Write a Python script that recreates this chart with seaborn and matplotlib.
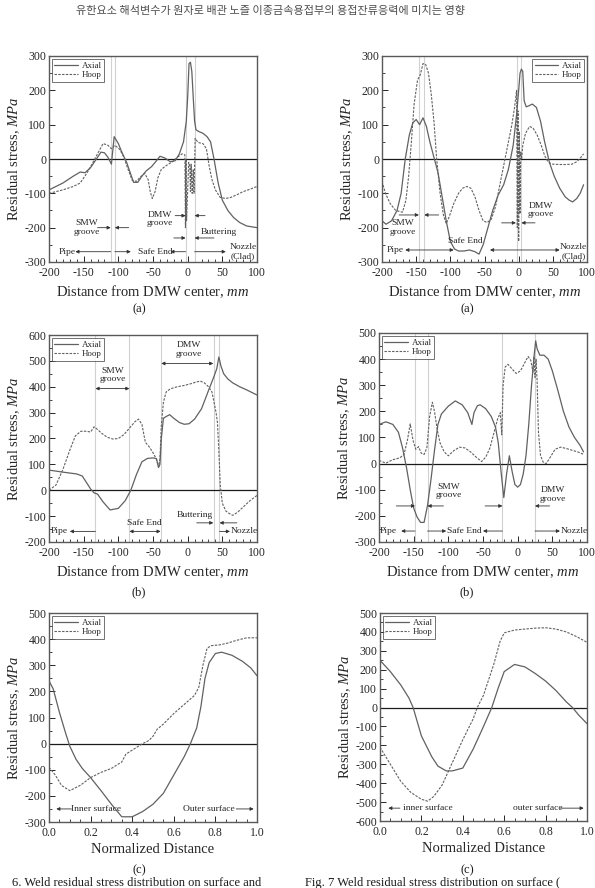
import matplotlib
matplotlib.use("Agg")
import matplotlib.pyplot as plt
import seaborn as sns
import numpy as np
import pandas as pd
from matplotlib.ticker import MultipleLocator

# ---------------- data ----------------
header = "유한요소 해석변수가 원자로 배관 노즐 이종금속용접부의 용접잔류응력에 미치는 영향"
series_names = ["Axial", "Hoop"]

# Panel 1 (top-left)
p1_ax_x = [-200, -180, -165, -155, -148, -140, -130, -125, -120, -115, -110, -106, -100, -95, -88, -82, -78, -72, -66, -60, -52, -45, -40, -33, -25, -18, -12, -6, -2, 0, 2, 4, 6, 8, 10, 12, 16, 22, 28, 33, 38, 44, 50, 58, 66, 75, 85, 100]
p1_ax_y = [-90, -70, -50, -38, -40, -25, 5, 20, 18, 5, -15, 65, 45, 20, -10, -45, -68, -68, -50, -35, -22, -5, 8, 3, -8, -5, 15, 50, 110, 180, 278, 282, 255, 180, 110, 85, 80, 75, 65, 50, 0, -70, -120, -150, -170, -185, -195, -200]
p1_hp_x = [-200, -180, -165, -155, -145, -138, -130, -122, -115, -110, -105, -98, -92, -86, -80, -74, -68, -62, -57, -54, -51, -47, -43, -38, -30, -22, -15, -8, -4, -3.2, -2.4, -1.6, 1.5, 3.0, 4.0, 5.0, 6.5, 8.0, 9.2, 10.8, 15, 22, 27, 31, 35, 40, 47, 55, 62, 70, 80, 90, 100]
p1_hp_y = [-100, -90, -80, -70, -40, -15, 15, 45, 40, 30, 40, 28, 5, -30, -62, -65, -52, -42, -60, -95, -115, -95, -55, -30, -18, -8, 5, 15, 12, -200, 0, -180, -10, -20, -95, -15, -100, -30, -100, 60, 48, 45, 30, -20, -60, -90, -112, -115, -112, -105, -95, -88, -80]

# Panel 2 (top-right)
p2_ax_x = [-200, -194, -186, -178, -172, -166, -160, -155, -150, -145, -140, -135, -130, -124, -118, -112, -106, -100, -94, -88, -80, -72, -64, -58, -52, -45, -38, -30, -22, -15, -8, -3, 0, 2, 4, 6, 8, 11, 15, 20, 26, 32, 38, 45, 52, 60, 68, 74, 79, 85, 90, 95]
p2_ax_y = [-180, -190, -180, -150, -100, 0, 70, 105, 115, 100, 120, 95, 50, 5, -40, -110, -180, -240, -262, -268, -268, -265, -270, -277, -250, -200, -150, -105, -75, -30, 40, 130, 200, 250, 262, 255, 170, 152, 155, 160, 150, 110, 50, -10, -50, -85, -110, -120, -125, -115, -100, -75]
p2_hp_x = [-200, -195, -188, -180, -170, -165, -161, -157, -153, -148, -144, -140, -136, -132, -128, -124, -120, -115, -110, -106, -102, -95, -88, -82, -76, -70, -64, -58, -52, -46, -40, -34, -28, -22, -16, -10, -6, -3, -2.0, -1.0, 0, 1.0, 2.0, 3.0, 4.4, 6, 10, 16, 21, 27, 33, 38, 42, 46, 50, 60, 70, 78, 85, 90, 95]
p2_hp_y = [-65, -100, -130, -150, -155, -120, -50, 50, 160, 230, 245, 278, 275, 250, 190, 110, 0, -100, -165, -188, -170, -130, -100, -85, -80, -85, -110, -150, -180, -185, -175, -140, -80, -20, 40, 100, 150, 200, -200, 140, -240, 80, -160, 20, 0, 40, 75, 95, 90, 70, 40, 10, -5, -12, -15, -16, -16, -15, -8, 2, 15]

# Panel 3 (middle-left)
p3_ax_x = [-200, -180, -160, -152, -146, -140, -135, -130, -122, -112, -100, -90, -82, -74, -66, -58, -50, -45, -42, -40, -38, -35, -31, -26, -20, -12, -5, 2, 10, 20, 30, 38, 42, 45, 48, 52, 58, 65, 75, 85, 100]
p3_ax_y = [78, 70, 63, 55, 30, 5, -10, -15, -45, -76, -70, -40, 0, 60, 110, 123, 125, 122, 88, 100, 200, 278, 285, 292, 278, 262, 255, 257, 275, 315, 385, 440, 470, 515, 480, 450, 430, 415, 400, 388, 368]
p3_hp_x = [-200, -190, -180, -170, -162, -154, -146, -140, -135, -130, -124, -116, -108, -100, -92, -84, -76, -71, -66, -61, -56, -50, -45, -42, -40, -38, -35, -31, -25, -15, -5, 5, 12, 18, 24, 30, 35, 38, 41, 43, 45, 47, 50, 55, 60, 65, 72, 80, 90, 100]
p3_hp_y = [0, 20, 80, 155, 210, 228, 228, 225, 245, 235, 220, 205, 198, 200, 215, 240, 265, 275, 255, 185, 170, 145, 120, 90, 120, 250, 340, 380, 392, 400, 405, 412, 418, 422, 415, 400, 380, 340, 300, 260, 150, 20, -50, -80, -90, -97, -85, -65, -40, -20]

# Panel 4 (middle-right)
p4_ax_x = [-200, -190, -180, -172, -166, -160, -155, -150, -145, -140, -135, -130, -125, -120, -115, -110, -100, -90, -80, -72, -68, -66, -63, -58, -54, -46, -38, -32, -28, -24, -20, -16, -12, -8, -4, 0, 4, 8, 12, 16, 20, 24, 26, 28, 32, 38, 44, 50, 58, 66, 74, 82, 90, 95]
p4_ax_y = [150, 160, 150, 120, 60, -20, -100, -170, -205, -225, -225, -160, -60, 50, 150, 190, 220, 240, 225, 195, 165, 150, 195, 222, 225, 210, 180, 140, 80, -30, -130, -40, 30, -30, -80, -90, -80, -40, 30, 150, 300, 420, 470, 440, 415, 415, 400, 355, 280, 200, 140, 100, 70, 45]
p4_hp_x = [-200, -190, -180, -170, -164, -159, -155, -151, -147, -143, -139, -135, -131, -127, -123, -120, -116, -112, -106, -100, -92, -84, -76, -68, -60, -52, -46, -40, -34, -29, -25, -23, -21, -18, -14, -8, -2, 4, 10, 15, 19, 22, 23.5, 25, 26.5, 28, 30, 33, 37, 41, 46, 54, 62, 70, 80, 90, 95]
p4_hp_y = [12, 2, 15, 22, 35, 90, 152, 90, 55, 65, 40, 35, 60, 180, 235, 200, 130, 80, 45, 30, 50, 63, 60, 45, 25, 8, 25, 60, 120, 170, 195, 110, 300, 370, 380, 362, 345, 355, 385, 410, 395, 350, 410, 330, 400, 320, 120, 30, 5, 0, 20, 55, 63, 58, 50, 42, 35]

# Panel 5 (bottom-left)
p5_ax_x = [0.0, 0.02, 0.05, 0.08, 0.1, 0.13, 0.16, 0.2, 0.25, 0.3, 0.35, 0.4, 0.45, 0.5, 0.55, 0.6, 0.65, 0.68, 0.71, 0.73, 0.75, 0.77, 0.8, 0.83, 0.88, 0.93, 0.97, 1.0]
p5_ax_y = [240, 210, 120, 40, -10, -60, -95, -130, -180, -232, -280, -280, -260, -232, -190, -120, -50, 0, 60, 140, 250, 310, 345, 350, 338, 315, 290, 260]
p5_hp_x = [0.0, 0.03, 0.06, 0.1, 0.15, 0.2, 0.25, 0.3, 0.35, 0.37, 0.4, 0.45, 0.48, 0.5, 0.52, 0.55, 0.6, 0.65, 0.7, 0.72, 0.74, 0.76, 0.78, 0.82, 0.86, 0.9, 0.95, 1.0]
p5_hp_y = [-90, -120, -160, -180, -160, -130, -110, -95, -70, -40, -25, 0, 12, 28, 55, 75, 115, 150, 185, 215, 300, 365, 375, 378, 385, 395, 405, 405]

# Panel 6 (bottom-right)
p6_ax_x = [0.0, 0.05, 0.1, 0.14, 0.16, 0.2, 0.25, 0.28, 0.32, 0.35, 0.4, 0.45, 0.5, 0.54, 0.57, 0.6, 0.65, 0.7, 0.75, 0.8, 0.85, 0.9, 0.93, 0.96, 1.0]
p6_ax_y = [250, 190, 120, 50, 0, -150, -260, -310, -335, -335, -320, -220, -100, 0, 100, 190, 228, 215, 180, 140, 90, 30, 0, -40, -85]
p6_hp_x = [0.0, 0.05, 0.1, 0.15, 0.2, 0.23, 0.26, 0.3, 0.35, 0.4, 0.45, 0.47, 0.5, 0.55, 0.58, 0.6, 0.65, 0.7, 0.75, 0.8, 0.85, 0.9, 0.95, 1.0]
p6_hp_y = [-210, -300, -390, -450, -485, -495, -470, -410, -290, -170, -60, 0, 65, 230, 350, 395, 410, 415, 420, 422, 415, 400, 375, 345]

# ---------------- style ----------------
sns.set_theme(style="ticks")
plt.rcParams["font.family"] = ["Liberation Serif", "DejaVu Serif"]
plt.rcParams["mathtext.fontset"] = "custom"
plt.rcParams["mathtext.rm"] = "Liberation Serif"
plt.rcParams["mathtext.it"] = "Liberation Serif:italic"
plt.rcParams["axes.unicode_minus"] = False

LINE_C = "0.38"
DOT = (0, (2.2, 1.2))

fig = plt.figure(figsize=(5.95, 8.88), dpi=100)

W, H = 595.0, 888.0
def add_axes(l, t, r, b):
    return fig.add_axes([l / W, 1 - b / H, (r - l) / W, (b - t) / H])

axes = [
    add_axes(49, 56, 257, 262),
    add_axes(382, 56, 587, 262),
    add_axes(49, 335, 257, 542),
    add_axes(379, 333, 587, 542),
    add_axes(49, 613, 257, 822),
    add_axes(380, 613, 587, 821),
]

data = [
    (p1_ax_x, p1_ax_y, p1_hp_x, p1_hp_y),
    (p2_ax_x, p2_ax_y, p2_hp_x, p2_hp_y),
    (p3_ax_x, p3_ax_y, p3_hp_x, p3_hp_y),
    (p4_ax_x, p4_ax_y, p4_hp_x, p4_hp_y),
    (p5_ax_x, p5_ax_y, p5_hp_x, p5_hp_y),
    (p6_ax_x, p6_ax_y, p6_hp_x, p6_hp_y),
]

ylims = [(-300, 300), (-300, 300), (-200, 600), (-300, 500), (-300, 500), (-600, 500)]
vlines = [[-111, -105, -3, 10], [-145.5, -138, -3, 2.7], [-133, -84, -38.4, 37.8, 45.3],
          [-148, -130, -22.4, 24.6], [], []]
legend_loc = ["upper left", "upper right", "upper left", "upper left", "upper left", "upper left"]

def arrow(ax, x0, x1, y, style="-|>"):
    ax.annotate("", xy=(x1, y), xytext=(x0, y),
                arrowprops=dict(arrowstyle=style, lw=0.6, color="0.2",
                                mutation_scale=5, shrinkA=0, shrinkB=0))

def txt(ax, x, y, s, ha="center"):
    ax.text(x, y, s, fontsize=6.8, ha=ha, va="center", color="0.15", linespacing=1.1)

for i, ax in enumerate(axes):
    axx, axy, hpx, hpy = data[i]
    for vx in vlines[i]:
        ax.axvline(vx, color="0.82", lw=0.8, zorder=1)
    ax.axhline(0, color="0.1", lw=0.9, zorder=2)
    d_ax = pd.DataFrame({"x": axx, "y": axy})
    d_hp = pd.DataFrame({"x": hpx, "y": hpy})
    sns.lineplot(data=d_ax, x="x", y="y", ax=ax, color=LINE_C, lw=0.9,
                 sort=False, estimator=None, label=series_names[0], zorder=3)
    sns.lineplot(data=d_hp, x="x", y="y", ax=ax, color=LINE_C, lw=0.8,
                 linestyle=DOT, sort=False, estimator=None, label=series_names[1], zorder=3)
    ax.set_ylim(*ylims[i])
    if i < 4:
        ax.set_xlim(-200, 100)
        ax.xaxis.set_major_locator(MultipleLocator(50))
        ax.xaxis.set_minor_locator(MultipleLocator(10))
        ax.set_xlabel("Distance from DMW center, $\\mathit{mm}$", fontsize=10.5, labelpad=3)
    else:
        ax.set_xlim(0, 1)
        ax.xaxis.set_minor_locator(MultipleLocator(0.05))
        ax.set_xticks(np.arange(0, 1.01, 0.2))
        ax.set_xticklabels(["0.0", "0.2", "0.4", "0.6", "0.8", "1.0"])
        ax.set_xlabel("Normalized Distance", fontsize=10.5, labelpad=3)
    ax.yaxis.set_major_locator(MultipleLocator(100))
    ax.yaxis.set_minor_locator(MultipleLocator(50))
    ax.set_ylabel("Residual stress, $\\mathit{MPa}$", fontsize=10.5, labelpad=2)
    ax.tick_params(which="both", direction="in", labelsize=8.5, colors="0.15")
    ax.tick_params(axis="x", pad=3.5)
    ax.tick_params(axis="y", pad=2)
    ax.tick_params(which="major", length=4, width=0.7)
    ax.tick_params(which="minor", length=2, width=0.6)
    for s in ax.spines.values():
        s.set_color("0.35")
        s.set_linewidth(1.0)
    leg = ax.legend(loc=legend_loc[i], fontsize=6.5, frameon=True, fancybox=False,
                    edgecolor="0.2", handlelength=2.6, borderpad=0.3, labelspacing=0.15,
                    handletextpad=0.4, borderaxespad=0.3)
    leg.get_frame().set_linewidth(0.6)

# ---- annotations panel 1 ----
ax = axes[0]
txt(ax, -146, -200, "SMW\ngroove")
arrow(ax, -130, -111, -200)
arrow(ax, -85, -105, -200)
txt(ax, -40, -175, "DMW\ngroove")
arrow(ax, -18, -3, -165)
arrow(ax, 25, 10, -165)
txt(ax, 45, -212, "Buttering")
arrow(ax, -20, -3, -230)
arrow(ax, 38, 10, -230)
txt(ax, -174, -270, "Pipe")
arrow(ax, -111, -162, -270)
arrow(ax, -105, -82, -270)
txt(ax, -46, -270, "Safe End")
arrow(ax, -3, -25, -270)
arrow(ax, 10, 55, -270)
txt(ax, 80, -270, "Nozzle\n(Clad)")

# ---- annotations panel 2 ----
ax = axes[1]
txt(ax, -170, -200, "SMW\ngroove")
arrow(ax, -175, -146, -163)
arrow(ax, -117, -138, -163)
txt(ax, 33, -148, "DMW\ngroove")
arrow(ax, -25, -4, -186)
arrow(ax, 24, 4, -186)
txt(ax, -78, -240, "Safe End")
txt(ax, -180, -265, "Pipe")
arrow(ax, -95, -166, -265, "<|-|>")
arrow(ax, -42, 60, -265, "<|-|>")
txt(ax, 80, -270, "Nozzle\n(Clad)")

# ---- annotations panel 3 ----
ax = axes[2]
txt(ax, -108, 445, "SMW\ngroove")
arrow(ax, -133, -84, 393, "<|-|>")
txt(ax, 2, 545, "DMW\ngroove")
arrow(ax, -38, 37, 490, "<|-|>")
txt(ax, 10, -97, "Buttering")
arrow(ax, 13, 37, -126)
arrow(ax, 71, 46, -126)
txt(ax, -185, -159, "Pipe")
arrow(ax, -133, -170, -159)
txt(ax, -62, -126, "Safe End")
arrow(ax, -84, -39, -159, "<|-|>")
arrow(ax, 46, 61, -159)
txt(ax, 82, -159, "Nozzle")

# ---- annotations panel 4 ----
ax = axes[3]
txt(ax, -99, -105, "SMW\ngroove")
arrow(ax, -175, -148, -162)
arrow(ax, -107, -130, -162)
txt(ax, 51, -118, "DMW\ngroove")
arrow(ax, -47, -22, -162)
arrow(ax, 46, 25, -162)
txt(ax, -187, -258, "Pipe")
arrow(ax, -148, -168, -258)
arrow(ax, -130, -103, -258)
txt(ax, -77, -258, "Safe End")
arrow(ax, -22, -50, -258)
arrow(ax, 25, 61, -258)
txt(ax, 82, -258, "Nozzle")

# ---- annotations panel 5 ----
ax = axes[4]
txt(ax, 0.225, -250, "Inner surface")
arrow(ax, 0.108, 0.035, -250)
txt(ax, 0.77, -250, "Outer surface")
arrow(ax, 0.90, 0.984, -250)

# ---- annotations panel 6 ----
ax = axes[5]
txt(ax, 0.23, -532, "inner surface")
arrow(ax, 0.096, 0.04, -532)
txt(ax, 0.76, -532, "outer surface")
arrow(ax, 0.872, 0.984, -532)

# ---- figure texts ----
fig.text(270 / W, 1 - 11 / H, header, fontsize=8.0, color="0.3", ha="center", va="center",
         family=["Noto Sans CJK KR", "DejaVu Sans"])
for (px, py, s) in [(139, 309, "(a)"), (467, 309, "(a)"), (139, 592, "(b)"), (467, 592, "(b)"),
                    (139, 870, "(c)"), (467, 870, "(c)")]:
    fig.text(px / W, 1 - py / H, s, fontsize=9, ha="center", va="center", color="0.1")
fig.text(12 / W, 1 - 883 / H, "6. Weld residual stress distribution on surface and", fontsize=9,
         ha="left", va="center", color="0.1")
fig.text(305 / W, 1 - 883 / H, "Fig. 7 Weld residual stress distribution on surface (", fontsize=9,
         ha="left", va="center", color="0.1")

fig.savefig("out.png", dpi=100)
